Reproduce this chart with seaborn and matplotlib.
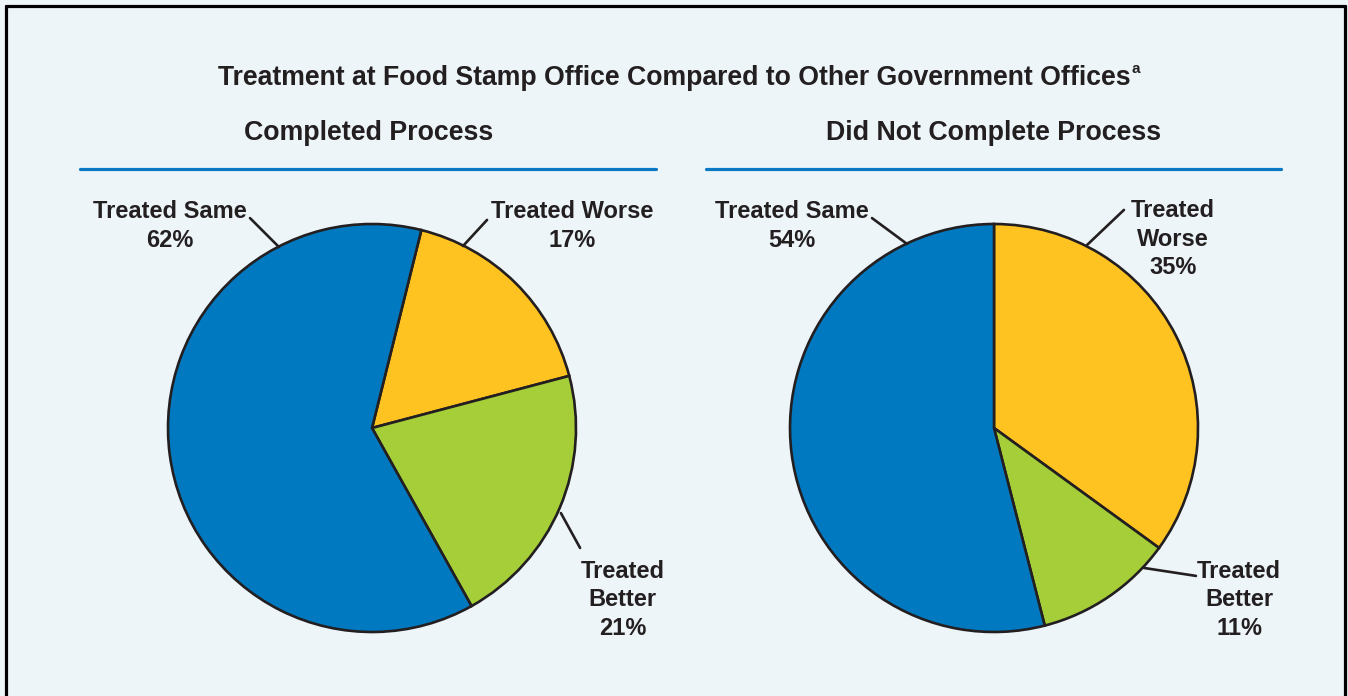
import matplotlib
matplotlib.use("Agg")
import matplotlib.pyplot as plt
import seaborn as sns
import numpy as np
from matplotlib.lines import Line2D

# dados
categorias = ["Treated Worse", "Treated Better", "Treated Same"]
completou = [17, 21, 62]
nao_completou = [35, 11, 54]
titulos = ["Completed Process", "Did Not Complete Process"]
titulo_geral = "Treatment at Food Stamp Office Compared to Other Government Offices"

rotulos_1 = ["Treated Worse\n17%", "Treated\nBetter\n21%", "Treated Same\n62%"]
rotulos_2 = ["Treated\nWorse\n35%", "Treated\nBetter\n11%", "Treated Same\n54%"]

sns.set_theme(style="white")
plt.rcParams['font.family'] = ['Liberation Sans', 'DejaVu Sans']
plt.rcParams['font.weight'] = 'bold'

cores = sns.color_palette(["#FEC221", "#A5CE39", "#0079C1"])
fundo = "#EDF5F9"
cor_texto = "#231F20"
azul_linha = "#0A78C2"

W, H = 1348, 696
fig = plt.figure(figsize=(W / 100, H / 100), dpi=100)
fig.patch.set_facecolor(fundo)

raio_px = 204
meio = 280  # metade do tamanho do eixo em px

def cria_eixo(cx, cy):
    ax = fig.add_axes([(cx - meio) / W, (H - cy - meio) / H, 2 * meio / W, 2 * meio / H])
    return ax

def desenha_pizza(ax, valores, inicio, rotulos, pos_rotulos, linhas):
    ax.pie(valores, colors=cores, startangle=inicio, counterclock=False, radius=1,
           wedgeprops=dict(edgecolor=cor_texto, linewidth=1.9))
    # o pie redefine os limites, entao ajusta depois
    lim = meio / raio_px
    ax.set_xlim(-lim, lim)
    ax.set_ylim(-lim, lim)
    ax.set_aspect("equal")
    ax.axis("off")
    for texto, (x, y) in zip(rotulos, pos_rotulos):
        ax.text(x, y, texto, ha="center", va="center", fontsize=17, fontweight="bold",
                color=cor_texto, linespacing=1.3)
    for (x0, y0), (x1, y1) in linhas:
        ax.plot([x0, x1], [y0, y1], color=cor_texto, lw=1.9, clip_on=False)

ax1 = cria_eixo(372, 428)
desenha_pizza(ax1, completou, 90 - 14, rotulos_1,
              [(0.98, 0.99), (1.23, -0.843), (-0.99, 0.99)],
              [((0.564, 1.020), (0.446, 0.892)),
               ((0.926, -0.417), (1.020, -0.588)),
               ((-0.598, 1.029), (-0.456, 0.887))])

ax2 = cria_eixo(994, 428)
desenha_pizza(ax2, nao_completou, 90, rotulos_2,
              [(0.877, 0.925), (1.201, -0.843), (-0.99, 0.99)],
              [((0.637, 1.069), (0.456, 0.897)),
               ((0.735, -0.686), (0.990, -0.725)),
               ((-0.598, 1.029), (-0.426, 0.902))])

# titulos
t = fig.text(674 / W, 1 - 78 / H, titulo_geral, ha="center", va="center",
             fontsize=19.2, fontweight="bold", color=cor_texto)
fig.canvas.draw()
bb = t.get_window_extent()
fig.text(bb.x1 / W + 1 / W, 1 - 69 / H, "a", ha="left", va="center",
         fontsize=11, fontweight="bold", color=cor_texto)

for xc, titulo in zip([369, 994], titulos):
    fig.text(xc / W, 1 - 133 / H, titulo, ha="center", va="center",
             fontsize=19.3, fontweight="bold", color=cor_texto)

for x0, x1 in [(80, 656), (706, 1281)]:
    fig.add_artist(Line2D([x0 / W, x1 / W], [1 - 169 / H, 1 - 169 / H],
                          color=azul_linha, lw=2.3))

# moldura (sem borda inferior)
moldura = dict(color="black", lw=2.3)
fig.add_artist(Line2D([6 / W, 6 / W], [0, 1 - 6 / H], **moldura))
fig.add_artist(Line2D([6 / W, 1345 / W], [1 - 6 / H, 1 - 6 / H], **moldura))
fig.add_artist(Line2D([1345 / W, 1345 / W], [0, 1 - 6 / H], **moldura))

fig.savefig("out.png", dpi=100, facecolor=fundo)
